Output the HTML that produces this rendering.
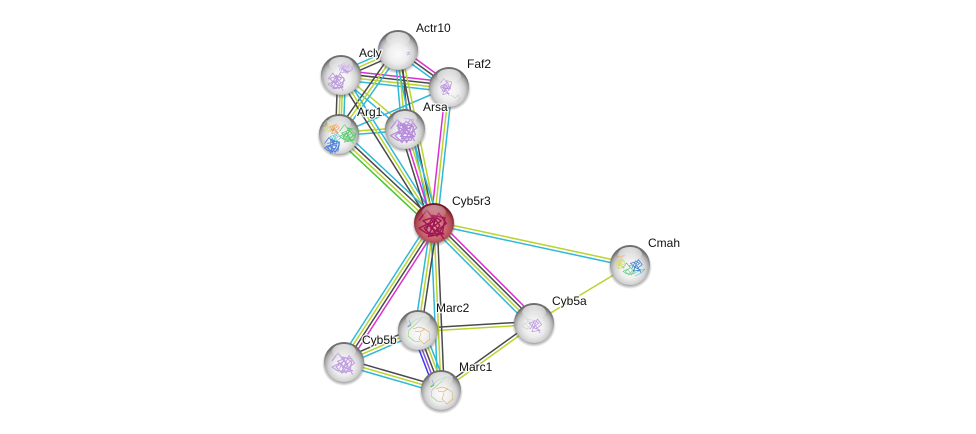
<!DOCTYPE html>
<html><head><meta charset="utf-8"><style>
html,body{margin:0;padding:0;background:#fff;width:976px;height:434px;overflow:hidden}
svg{display:block}
line{stroke-width:1.5;fill:none}
.c{stroke:#2fb8d8}.y{stroke:#b9d42e}.d{stroke:#4a4a4a}.m{stroke:#d92fd2}.g{stroke:#45c82c}.b{stroke:#3c3cf0}.p{stroke:#8a50e0}
text{font-family:"Liberation Sans",sans-serif;font-size:12px;fill:#111;paint-order:stroke;stroke:#fff;stroke-width:2.5px;stroke-opacity:.85;stroke-linejoin:round}
polyline{fill:none;stroke-width:.55;stroke-linejoin:round}
</style></head><body>
<svg width="976" height="434" viewBox="0 0 976 434" xmlns="http://www.w3.org/2000/svg">
<defs>
<radialGradient id="s" cx="50%" cy="60%" r="54%">
<stop offset="0" stop-color="#fbfbfb"/><stop offset=".45" stop-color="#eeeeee"/><stop offset=".72" stop-color="#d2d2d2"/><stop offset=".88" stop-color="#aaaaaa"/><stop offset="1" stop-color="#6f6f6f"/>
</radialGradient>
<radialGradient id="r" cx="50%" cy="58%" r="54%">
<stop offset="0" stop-color="#e49aa2"/><stop offset=".5" stop-color="#cf6d78"/><stop offset=".82" stop-color="#b04a55"/><stop offset="1" stop-color="#741a24"/>
</radialGradient>
<linearGradient id="h" x1="0" y1="0" x2="0" y2="1"><stop offset="0" stop-color="#fff" stop-opacity=".8"/><stop offset="1" stop-color="#fff" stop-opacity="0"/></linearGradient>
<radialGradient id="sh" cx="50%" cy="50%" r="50%"><stop offset=".8" stop-color="#444" stop-opacity=".55"/><stop offset="1" stop-color="#555" stop-opacity="0"/></radialGradient>
<g id="ball"><circle cx="0" cy="2" r="22" fill="url(#sh)"/><circle r="20" fill="url(#s)"/></g>
<g id="ballr"><circle cx="0" cy="2" r="22" fill="url(#sh)"/><circle r="20" fill="url(#r)"/></g>
<ellipse id="hi" cx="0" cy="-11" rx="12" ry="7" fill="url(#h)"/>
<polyline id="blob" points="-5,-1 -2,-5 1,-1 -3,2 0,5 3,1 0,-3 5,-2 4,4 -2,4 -5,2 -1,0 2,5 5,0"/>
<polyline id="blob2" points="-4,2 -1,-4 2,-2 -2,1 3,3 -3,4 1,-5 4,-1 0,2 -5,-2 -2,-3 3,5"/>
</defs>

<line class="y" x1="434" y1="223" x2="630" y2="265" transform="translate(.35 -1.6)"/>
<line class="c" x1="434" y1="223" x2="630" y2="265" transform="translate(-.35 1.6)"/>
<line class="y" x1="534" y1="323" x2="630" y2="265"/>
<line class="m" x1="434" y1="223" x2="534" y2="323" transform="translate(3.4 -3.4)"/>
<line class="d" x1="434" y1="223" x2="534" y2="323" transform="translate(1.1 -1.1)"/>
<line class="y" x1="434" y1="223" x2="534" y2="323" transform="translate(-1.1 1.1)"/>
<line class="c" x1="434" y1="223" x2="534" y2="323" transform="translate(-3.4 3.4)"/>
<line class="d" x1="418" y1="330" x2="534" y2="323" transform="translate(0 -1.6)"/>
<line class="y" x1="418" y1="330" x2="534" y2="323" transform="translate(0 1.6)"/>
<line class="d" x1="441" y1="390" x2="534" y2="323" transform="translate(-.9 -1.3)"/>
<line class="y" x1="441" y1="390" x2="534" y2="323" transform="translate(.9 1.3)"/>
<line class="c" x1="434" y1="223" x2="344" y2="362" transform="translate(-4 -2.6)"/>
<line class="y" x1="434" y1="223" x2="344" y2="362" transform="translate(-1.3 -.9)"/>
<line class="d" x1="434" y1="223" x2="344" y2="362" transform="translate(1.3 .9)"/>
<line class="m" x1="434" y1="223" x2="344" y2="362" transform="translate(4 2.6)"/>
<line class="c" x1="434" y1="223" x2="441" y2="390" transform="translate(-3.2 0)"/>
<line class="y" x1="434" y1="223" x2="441" y2="390"/>
<line class="d" x1="434" y1="223" x2="441" y2="390" transform="translate(3.2 0)"/>
<line class="c" x1="434" y1="223" x2="418" y2="330" transform="translate(-3.2 -.5)"/>
<line class="y" x1="434" y1="223" x2="418" y2="330"/>
<line class="d" x1="434" y1="223" x2="418" y2="330" transform="translate(3.2 .5)"/>
<line class="b" x1="418" y1="330" x2="441" y2="390" transform="translate(-5.6 2.2)"/>
<line class="p" x1="418" y1="330" x2="441" y2="390" transform="translate(-2.9 1.1)"/>
<line class="d" x1="418" y1="330" x2="441" y2="390"/>
<line class="y" x1="418" y1="330" x2="441" y2="390" transform="translate(2.9 -1.1)"/>
<line class="c" x1="418" y1="330" x2="441" y2="390" transform="translate(5.6 -2.2)"/>
<line class="d" x1="344" y1="362" x2="418" y2="330" transform="translate(-1.3 -3)"/>
<line class="y" x1="344" y1="362" x2="418" y2="330"/>
<line class="c" x1="344" y1="362" x2="418" y2="330" transform="translate(1.3 3)"/>
<line class="d" x1="344" y1="362" x2="441" y2="390" transform="translate(.9 -3.1)"/>
<line class="y" x1="344" y1="362" x2="441" y2="390"/>
<line class="c" x1="344" y1="362" x2="441" y2="390" transform="translate(-.9 3.1)"/>

<line class="c" x1="341" y1="75" x2="398" y2="50" transform="translate(-1.3 -3)"/>
<line class="y" x1="341" y1="75" x2="398" y2="50"/>
<line class="d" x1="341" y1="75" x2="398" y2="50" transform="translate(1.3 3)"/>
<line class="m" x1="398" y1="50" x2="449" y2="87" transform="translate(1.9 -2.6)"/>
<line class="d" x1="398" y1="50" x2="449" y2="87"/>
<line class="c" x1="398" y1="50" x2="449" y2="87" transform="translate(-1.9 2.6)"/>
<line class="m" x1="341" y1="75" x2="449" y2="87" transform="translate(.5 -4.8)"/>
<line class="d" x1="341" y1="75" x2="449" y2="87" transform="translate(.15 -1.6)"/>
<line class="y" x1="341" y1="75" x2="449" y2="87" transform="translate(-.15 1.6)"/>
<line class="c" x1="341" y1="75" x2="449" y2="87" transform="translate(-.5 4.8)"/>
<line class="d" x1="341" y1="75" x2="339" y2="134" transform="translate(-3.4 0)"/>
<line class="y" x1="341" y1="75" x2="339" y2="134" transform="translate(-.4 0)"/>
<line class="y" x1="341" y1="75" x2="339" y2="134" transform="translate(1.8 0)"/>
<line class="c" x1="341" y1="75" x2="339" y2="134" transform="translate(4.4 0)"/>
<line class="y" x1="341" y1="75" x2="405" y2="129" transform="translate(1.4 -1.6)"/>
<line class="c" x1="341" y1="75" x2="405" y2="129" transform="translate(-1.4 1.6)"/>
<line class="d" x1="398" y1="50" x2="339" y2="134" transform="translate(-2.7 -1.9)"/>
<line class="y" x1="398" y1="50" x2="339" y2="134"/>
<line class="c" x1="398" y1="50" x2="339" y2="134" transform="translate(2.7 1.9)"/>
<line class="c" x1="398" y1="50" x2="405" y2="129" transform="translate(-3.2 .3)"/>
<line class="y" x1="398" y1="50" x2="405" y2="129"/>
<line class="d" x1="398" y1="50" x2="405" y2="129" transform="translate(3.2 -.3)"/>
<line class="y" x1="339" y1="134" x2="405" y2="129" transform="translate(0 -1.6)"/>
<line class="c" x1="339" y1="134" x2="405" y2="129" transform="translate(0 1.6)"/>
<line class="c" x1="339" y1="134" x2="449" y2="87"/>
<line class="m" x1="434" y1="223" x2="449" y2="87" transform="translate(-3.2 -.35)"/>
<line class="y" x1="434" y1="223" x2="449" y2="87"/>
<line class="c" x1="434" y1="223" x2="449" y2="87" transform="translate(3.2 .35)"/>
<line class="c" x1="434" y1="223" x2="398" y2="50" transform="translate(-3.1 .7)"/>
<line class="d" x1="434" y1="223" x2="398" y2="50"/>
<line class="y" x1="434" y1="223" x2="398" y2="50" transform="translate(3.1 -.7)"/>
<line class="d" x1="434" y1="223" x2="341" y2="75" transform="translate(-2.8 1.7)"/>
<line class="y" x1="434" y1="223" x2="341" y2="75"/>
<line class="c" x1="434" y1="223" x2="341" y2="75" transform="translate(2.8 -1.7)"/>
<line class="d" x1="434" y1="223" x2="405" y2="129" transform="translate(-4.6 1.4)"/>
<line class="m" x1="434" y1="223" x2="405" y2="129" transform="translate(-1.5 .5)"/>
<line class="y" x1="434" y1="223" x2="405" y2="129" transform="translate(1.5 -.5)"/>
<line class="c" x1="434" y1="223" x2="405" y2="129" transform="translate(4.6 -1.4)"/>
<line class="g" x1="434" y1="223" x2="339" y2="134" transform="translate(-3.5 3.8)"/>
<line class="y" x1="434" y1="223" x2="339" y2="134" transform="translate(-1.2 1.2)"/>
<line class="d" x1="434" y1="223" x2="339" y2="134" transform="translate(1.2 -1.2)"/>
<line class="c" x1="434" y1="223" x2="339" y2="134" transform="translate(3.5 -3.8)"/>

<g transform="translate(398 50)"><use href="#ball"/>
<polyline stroke="#c3a8e2" points="-17,-7 -14,-8 -16,-5"/><polyline stroke="#c3a8e2" points="8,3 12,2 9,5 13,4"/><use href="#hi"/></g>

<g transform="translate(341 75)"><use href="#ball"/>
<g stroke="#bd9ade"><use href="#blob" transform="translate(-5 6) scale(1.6)"/><use href="#blob2" transform="translate(-3 7) scale(1.7)"/><use href="#blob2" transform="translate(3 -7) scale(1.2)"/><use href="#blob" transform="translate(6 -8) rotate(40) scale(1.1)"/></g><use href="#hi"/></g>

<g transform="translate(449 87)"><use href="#ball"/>
<g stroke="#b48bd8"><use href="#blob" transform="translate(-3 -3) scale(1.1)"/><use href="#blob2" transform="translate(-3 3) scale(1.1)"/></g>
<polyline stroke="#c8c8c8" points="2,8 6,11 9,8 11,12 8,15"/><use href="#hi"/></g>

<g transform="translate(405 129)"><use href="#ball"/>
<g stroke="#b68ddb"><use href="#blob" transform="translate(-3 2) scale(2.3)"/><use href="#blob2" transform="translate(3 1) scale(2.2)"/><use href="#blob" transform="translate(2 -1) rotate(60) scale(2)"/></g><use href="#hi"/></g>

<g transform="translate(339 134)"><use href="#ball"/>
<g stroke="#dfe07a"><use href="#blob" transform="translate(-10 -8) scale(1.1)"/></g>
<g stroke="#e8894a"><use href="#blob2" transform="translate(-4 -5) scale(1.1)"/></g>
<g stroke="#62cc72"><use href="#blob" transform="translate(9 -1) scale(1.7)"/><use href="#blob2" transform="translate(10 2) scale(1.5)"/></g>
<g stroke="#60c8d0"><use href="#blob2" transform="translate(-3 5) scale(1.2)"/></g>
<g stroke="#4e7fdc"><use href="#blob" transform="translate(-7 11) scale(1.5)"/><use href="#blob2" transform="translate(-6 12) rotate(50) scale(1.4)"/></g><use href="#hi"/></g>

<g transform="translate(434 223)"><use href="#ballr"/>
<g stroke="#a01852"><use href="#blob" transform="translate(-2 0) scale(2.6)"/><use href="#blob2" transform="translate(2 3) scale(2.6)"/></g>
<polyline stroke="#a01852" points="-3,14 0,6 3,14"/>
<ellipse cx="0" cy="-11" rx="12" ry="7" fill="url(#h)" opacity=".6"/></g>

<g transform="translate(630 265)"><use href="#ball"/>
<polyline stroke="#e89a60" stroke-width="1" points="-14,-8 -8,-9 -5,-10 -10,-7"/>
<g stroke="#cfd94a"><use href="#blob2" transform="translate(-9 -1) scale(1.1)"/></g>
<g stroke="#64c88a"><use href="#blob" transform="translate(-1 4) scale(1.2)"/></g>
<g stroke="#3b7fd0"><use href="#blob2" transform="translate(7 1) scale(1.3)"/></g>
<polyline stroke="#45c2d8" stroke-width="1.2" points="3,9 9,6 15,4 11,8 5,11"/><use href="#hi"/></g>

<g transform="translate(534 323)"><use href="#ball"/>
<g stroke="#d8d8d8"><use href="#blob" transform="translate(-7 0) scale(1.3)"/></g>
<g stroke="#bb9adf"><use href="#blob2" transform="translate(2 3) scale(1.4)"/></g><use href="#hi"/></g>

<g transform="translate(418 330)"><use href="#ball"/>
<polyline stroke="#4e70d8" stroke-width="1.3" points="-9,-10 -7,-5 -10,-3"/>
<polyline stroke="#7fd07a" stroke-width="1.2" points="-11,-3 -3,-10 5,-13 -1,-7 -9,0 -10,6 -4,11 2,12"/>
<polyline stroke="#e89a50" stroke-width="1.3" points="-5,-1 1,-3 7,-1 2,2 -3,1"/>
<polyline stroke="#d8b05a" stroke-width="1.2" points="5,-2 11,2 12,9 6,14 1,9 3,3"/>
<polyline stroke="#aedcf0" stroke-width="1.2" points="-2,-13 6,-15 12,-13"/><use href="#hi"/></g>

<g transform="translate(344 362)"><use href="#ball"/>
<g stroke="#c0a0e0"><use href="#blob" transform="translate(-2 1) scale(2)"/><use href="#blob2" transform="translate(3 3) scale(1.9)"/></g><use href="#hi"/></g>

<g transform="translate(441 390)"><use href="#ball"/>
<polyline stroke="#4e70d8" stroke-width="1.3" points="-9,-10 -7,-5 -10,-3"/>
<polyline stroke="#7fd07a" stroke-width="1.2" points="-11,-3 -3,-10 5,-13 -1,-7 -9,0 -10,6 -4,11 2,12"/>
<polyline stroke="#e89a50" stroke-width="1.3" points="-5,-1 1,-3 7,-1 2,2 -3,1"/>
<polyline stroke="#d8b05a" stroke-width="1.2" points="5,-2 11,2 12,9 6,14 1,9 3,3"/>
<polyline stroke="#aedcf0" stroke-width="1.2" points="-2,-13 6,-15 12,-13"/><use href="#hi"/></g>

<text x="416" y="32">Actr10</text>
<text x="359" y="57">Acly</text>
<text x="467" y="68">Faf2</text>
<text x="423" y="111">Arsa</text>
<text x="357" y="116">Arg1</text>
<text x="452" y="205">Cyb5r3</text>
<text x="648" y="247">Cmah</text>
<text x="552" y="305">Cyb5a</text>
<text x="436" y="312">Marc2</text>
<text x="362" y="344">Cyb5b</text>
<text x="459" y="371">Marc1</text>
</svg>
</body></html>
